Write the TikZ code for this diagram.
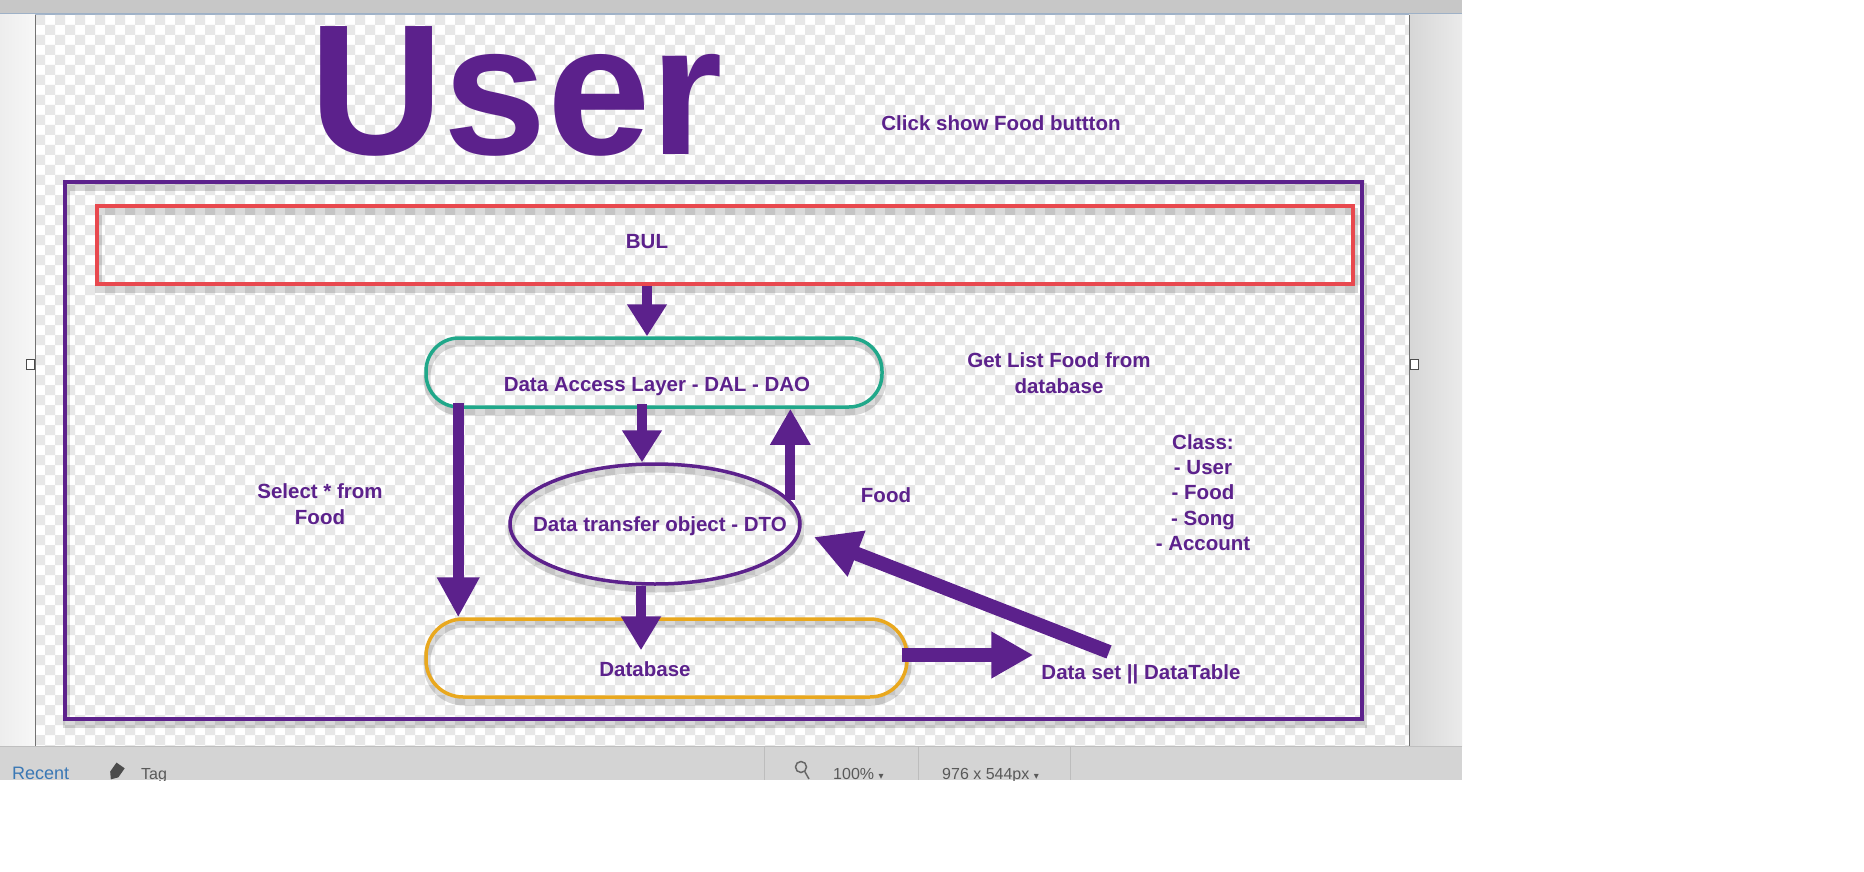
\documentclass[tikz,border=0pt]{standalone}
\usepackage{fontspec}
\setmainfont{Liberation Sans}
\newfontfamily\djv{DejaVu Sans}
\usetikzlibrary{arrows.meta,calc,shapes.geometric}
\definecolor{pur}{RGB}{92,33,140}
\definecolor{redb}{RGB}{232,72,78}
\definecolor{tealb}{RGB}{32,168,138}
\definecolor{orng}{RGB}{233,168,30}
\definecolor{chk}{RGB}{231,231,231}
\definecolor{recentblue}{RGB}{58,120,181}
\definecolor{barline}{RGB}{158,177,199}
\begin{document}
\begin{tikzpicture}[x=1pt,y=-1pt,
  lbl/.style={font=\fontsize{20.5}{26}\selectfont\bfseries, text=pur, align=center, inner sep=0pt},
  boxshadow/.style={preaction={draw=black,draw opacity=0.15,line width=7pt,transform canvas={xshift=1pt,yshift=-5pt}}},
  fat/.style={draw=pur, line width=#1},
  fat/.default=10pt,
  status/.style={font=\fontsize{16}{16}\selectfont, text=black!65, inner sep=0pt, anchor=base west},
]
\useasboundingbox (0,0) rectangle (1864,872);
\fill[white] (0,0) rectangle (1864,872);
\begin{scope}
\clip (0,0) rectangle (1462,780);
% window chrome
\fill[black!12] (0,0) rectangle (1462,780);
\fill[black!22] (0,0) rectangle (1462,14);
\draw[barline, line width=1.2pt] (0,14) -- (1462,14);
\fill[left color=black!7, right color=black!3] (0,15) rectangle (35,746);
\fill[left color=black!16, right color=black!8] (1409,15) rectangle (1462,746);
% checkerboard canvas
\begin{scope}
\clip (35,15) rectangle (1409,746);
\fill[white] (35,15) rectangle (1409,746);
\fill[chk] \foreach \j in {0,2,...,74}{\foreach \i in {0,2,...,138}{({35+10*\i},{15+10*\j}) rectangle ++(10,10)}};
\fill[chk] \foreach \j in {1,3,...,73}{\foreach \i in {1,3,...,137}{({35+10*\i},{15+10*\j}) rectangle ++(10,10)}};
\end{scope}
\draw[black!55, line width=1pt] (35,15) -- (35,746) (1409,15) -- (1409,746);
\draw[black!70, fill=white, line width=0.8pt] (26,359) rectangle (34,369);
\draw[black!70, fill=white, line width=0.8pt] (1410,359) rectangle (1418,369);
% status bar
\fill[black!17] (0,746) rectangle (1462,780);
\draw[black!25] (0,746) -- (1462,746);
\draw[black!26] (764,746) -- (764,780) (918,746) -- (918,780) (1070,746) -- (1070,780);
\node[status, font=\fontsize{18}{18}\selectfont, text=recentblue] (recent) at (12,779) {Recent};
\fill[black!70, rotate around={-35:(116,772)}] (111,764) -- (121,764) -- (121,775) -- (116,781) -- (111,775) -- cycle;
\node[status] (tag) at (141,779) {Tag};
\draw[black!60, line width=1.5pt] (801,767) circle (5.5) (805,772) -- (809,779);
\node[status] (zoom) at (833,779) {100\% {\djv\fontsize{10}{10}\selectfont ▾}};
\node[status] (size) at (942,779) {976 x 544px {\djv\fontsize{10}{10}\selectfont ▾}};
\end{scope}
% title texts
\node[font=\fontsize{186}{186}\selectfont\bfseries, text=pur, inner sep=0pt] (user) at (516.5,91) {User};
\node[lbl, anchor=base] (click) at (1001,131) {Click show Food buttton};
% frames
\node[draw=pur, line width=4pt, minimum width=1297pt, minimum height=537pt, inner sep=0pt, boxshadow] (outer) at (713.5,450.5) {};
\node[draw=redb, line width=3.5pt, minimum width=1256pt, minimum height=78pt, inner sep=0pt, boxshadow] (bulbox) at (725,245) {};
\node[lbl, anchor=base] (bul) at (647,248) {BUL};
\node[draw=tealb, line width=3.5pt, rounded corners=33pt, minimum width=456pt, minimum height=69pt, inner sep=0pt, boxshadow] (dal) at (654,372.5) {};
\node[lbl, anchor=base] (dalt) at (657,391) {Data Access Layer - DAL - DAO};
\node[ellipse, draw=pur, line width=3.5pt, minimum width=290pt, minimum height=120pt, inner sep=0pt, boxshadow] (dto) at (655,524) {};
\node[lbl, anchor=base] (dtot) at (660,531) {Data transfer object - DTO};
\node[draw=orng, line width=3.5pt, rounded corners=37pt, minimum width=481pt, minimum height=78pt, inner sep=0pt, boxshadow] (db) at (666.5,658) {};
\node[lbl, anchor=base] (dbt) at (645,676) {Database};
\node[lbl, anchor=base] (ds) at (1141,679) {Data set || DataTable};
% side labels
\node[lbl, anchor=north] (getlist) at (1059,352.5) {Get List Food from\\database};
\node[lbl, anchor=north] (select) at (320,483.5) {Select * from\\Food};
\node[lbl, anchor=base] (food) at (886,502) {Food};
\node[lbl, anchor=north, font=\fontsize{20.5}{25.2}\selectfont\bfseries] (classes) at (1203,434.5) {Class:\\- User\\- Food\\- Song\\- Account};
% arrows
\draw[fat=10pt, -{Triangle[width=38pt,length=32pt]}] (bul |- bulbox.south) -- (bul |- dal.north);
\draw[fat=10pt, -{Triangle[width=38pt,length=32pt]}] ([xshift=-12pt,yshift=5pt]dal.south) -- ([xshift=-13pt]dto.north);
\draw[fat=10pt, -{Triangle[width=38pt,length=36pt]}] (dto.10) -- (dto.10 |- dal.south);
\draw[fat=11pt, -{Triangle[width=40pt,length=40pt]}] ([xshift=34pt,yshift=6pt]dal.south west) -- ([xshift=34pt]db.north west);
\draw[fat=10pt, -{Triangle[width=38pt,length=34pt]}] ($(dto.south)+(-14,0)$) -- ($(db.north)+(-25.5,33)$);
\draw[fat=14pt, -{Triangle[width=44pt,length=42pt]}] ([xshift=-7pt,yshift=3pt]db.east) -- ([xshift=-8pt,yshift=3pt]ds.west |- db.east);
\draw[fat=14pt, -{Triangle[width=46pt,length=46pt]}] ($(ds.north)+(-32,-12)$) -- ($(dto.east)+(12,13)$);
\end{tikzpicture}
\end{document}
